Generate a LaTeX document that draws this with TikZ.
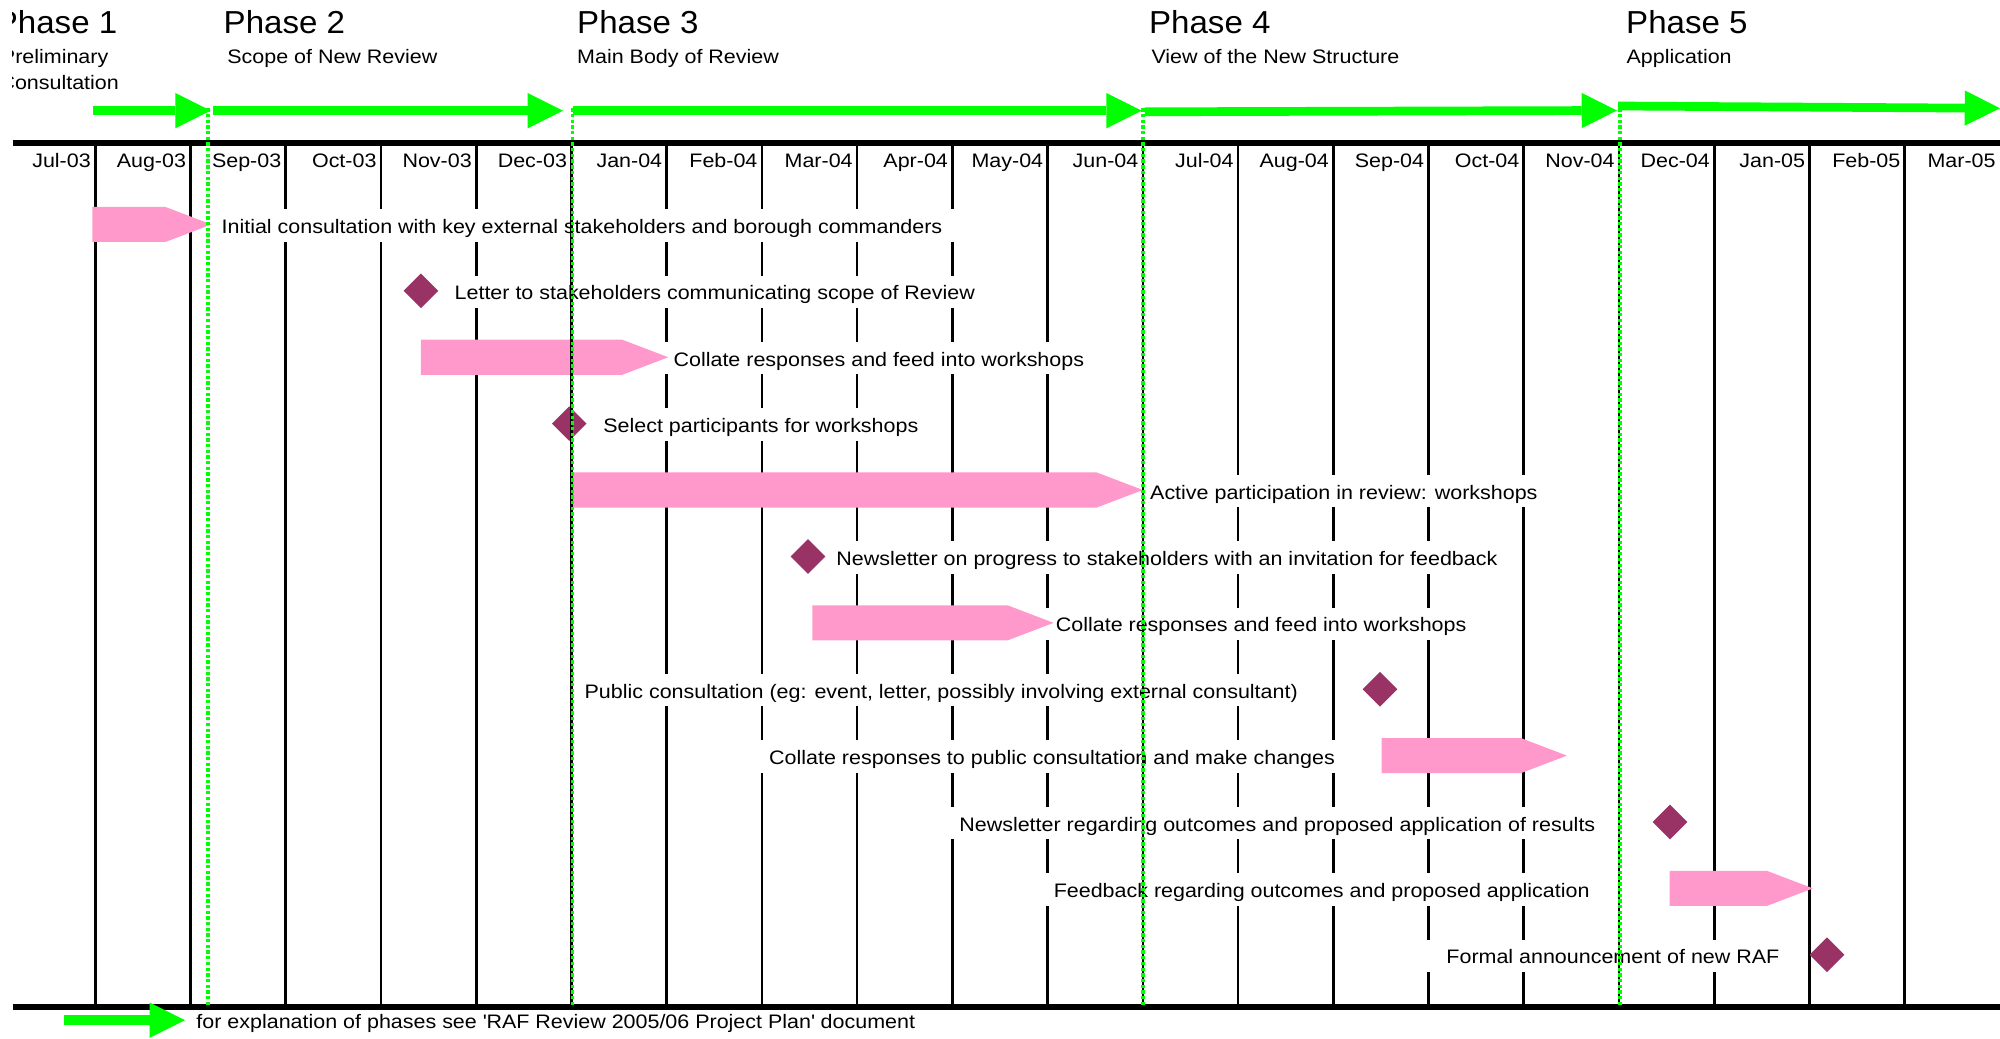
\documentclass[tikz,border=0pt]{standalone}
\usepackage{fontspec}
\setmainfont{Liberation Sans}
\newfontfamily\labelfont{Liberation Sans}[FakeStretch=1.1]
\newfontfamily\titlefont{Liberation Sans}[FakeStretch=1.04]
\usepackage{tikz}
\usetikzlibrary{calc,shapes.geometric,arrows.meta}
\definecolor{phasegreen}{RGB}{0,255,0}
\definecolor{barpink}{RGB}{255,153,204}
\definecolor{mileplum}{RGB}{153,51,102}
% pink task bar from tail to tip
\newcommand{\taskbar}[2]{%
  \fill[barpink] ($(#1)+(0,0.184)$) -- ($(#2)+(-0.483,0.184)$) -- (#2)
    -- ($(#2)+(-0.483,-0.184)$) -- ($(#1)+(0,-0.184)$) -- cycle;}

\begin{document}
\begin{tikzpicture}
        \tikzstyle{lbl}=[font=\labelfont\fontsize{5.83}{7}\selectfont, fill=white, inner xsep=0.22cm, inner ysep=0.5pt, text height=6.73pt, text depth=1.95pt]
        \tikzstyle{month}=[font=\labelfont\fontsize{5.83}{7}\selectfont, inner sep=0pt, anchor=base east]
        \tikzstyle{phasetitle}=[font=\titlefont\fontsize{9.5}{11}\selectfont, inner sep=0pt, anchor=base west]
        \tikzstyle{phasesub}=[font=\labelfont\fontsize{5.83}{7}\selectfont, inner sep=0pt, anchor=base west]
        \tikzstyle{phasearrow}=[draw=phasegreen, line width=2.6pt, -{Triangle[length=0.37cm,width=0.37cm,line width=0pt]}]
        \tikzstyle{milestone}=[diamond, fill=mileplum, inner sep=0pt, minimum size=0.37cm]
        \tikzstyle{phaseline}=[draw=phasegreen, line width=1pt, dash pattern=on 1pt off 0.7pt]
        \useasboundingbox (0,0) rectangle (21,-10.909);
        \clip (0.133,0.1) rectangle (21,-11);
        % Month grid
        \foreach \x in {1,...,20}
            \draw[line width=0.8pt] (\x,-1.499) -- (\x,-10.573);
        \draw[line width=1.7pt] (0.133,-1.499) -- (21,-1.499);
        \draw[line width=1.7pt] (0.133,-10.573) -- (21,-10.573);
        \foreach \m [count=\i] in {Jul-03,Aug-03,Sep-03,Oct-03,Nov-03,Dec-03,Jan-04,Feb-04,Mar-04,Apr-04,May-04,Jun-04,Jul-04,Aug-04,Sep-04,Oct-04,Nov-04,Dec-04,Jan-05,Feb-05,Mar-05}
            \node[month] (mo\i) at (\i-0.04,-1.761) {\m};
        % Phase headings
        \node[phasetitle] (ph1) at (-0.050,-0.350) {Phase 1};
        \node[phasesub] (ph1a) at ($(ph1.base west) + (0.053,-0.315)$) {Preliminary};
        \node[phasesub] (ph1b) at ($(ph1a.base west) + (-0.015,-0.280)$) {Consultation};
        \node[phasetitle] (ph2) at (2.342,-0.350) {Phase 2};
        \node[phasesub] (ph2a) at ($(ph2.base west) + (0.038,-0.315)$) {Scope of New Review};
        \node[phasetitle] (ph3) at (6.054,-0.350) {Phase 3};
        \node[phasesub] (ph3a) at ($(ph3.base west) + (0,-0.315)$) {Main Body of Review};
        \node[phasetitle] (ph4) at (12.059,-0.350) {Phase 4};
        \node[phasesub] (ph4a) at ($(ph4.base west) + (0.025,-0.315)$) {View of the New Structure};
        \node[phasetitle] (ph5) at (17.068,-0.350) {Phase 5};
        \node[phasesub] (ph5a) at ($(ph5.base west) + (0.005,-0.315)$) {Application};
        % Phase arrows
        \coordinate (s1) at (0.973,-1.162);
        \coordinate (e1) at (2.212,-1.162);
        \coordinate (s2) at (2.240,-1.162);
        \coordinate (e2) at (5.911,-1.162);
        \coordinate (s3) at (6.014,-1.162);
        \coordinate (e3) at (11.988,-1.162);
        \coordinate (s4) at (12.022,-1.174);
        \coordinate (e4) at (16.978,-1.160);
        \coordinate (s5) at (16.990,-1.113);
        \coordinate (e5) at (21.0,-1.137);
        \draw[phasearrow] (s1) -- (e1);
        \draw[phasearrow] (s2) -- (e2);
        \draw[phasearrow] (s3) -- (e3);
        \draw[phasearrow] (s4) -- (e4);
        \draw[phasearrow] (s5) -- (e5);
        % Bars and milestones
        \coordinate (b1) at (0.970,-2.357);
        \coordinate (b1t) at (2.22,-2.357);
        \coordinate (d2) at (4.42,-3.054);
        \coordinate (b3) at (4.42,-3.751);
        \coordinate (b3t) at (7.017,-3.751);
        \coordinate (d4) at (5.977,-4.448);
        \coordinate (b5) at (6.0,-5.145);
        \coordinate (b5t) at (12.0,-5.145);
        \coordinate (d6) at (8.484,-5.843);
        \coordinate (b7) at (8.531,-6.540);
        \coordinate (b7t) at (11.063,-6.540);
        \coordinate (d8) at (14.49,-7.237);
        \coordinate (b9) at (14.508,-7.934);
        \coordinate (b9t) at (16.453,-7.934);
        \coordinate (d10) at (17.535,-8.631);
        \coordinate (b11) at (17.530,-9.328);
        \coordinate (b11t) at (19.036,-9.328);
        \coordinate (d12) at (19.183,-10.025);
        % Labels
        \node[lbl, anchor=base west] (t1) at ($(b1t) + (-0.12,-0.095)$) {Initial consultation with key external stakeholders and borough commanders};
        \node[lbl, anchor=base west] (t2) at ($(d2) + (0.127,-0.095)$) {Letter to stakeholders communicating scope of Review};
        \node[lbl, anchor=base west] (t3) at ($(b3t) + (-0.171,-0.095)$) {Collate responses and feed into workshops};
        \node[lbl, anchor=base west] (t4) at ($(d4) + (0.131,-0.095)$) {Select participants for workshops};
        \node[lbl, anchor=base west] (t5) at ($(b5t) + (-0.15,-0.095)$) {Active participation in review: workshops};
        \node[lbl, anchor=base west] (t6) at ($(d6) + (0.071,-0.095)$) {Newsletter on progress to stakeholders with an invitation for feedback};
        \node[lbl, anchor=base west] (t7) at ($(b7t) + (-0.203,-0.095)$) {Collate responses and feed into workshops};
        \node[lbl, anchor=base east] (t8) at ($(d8) + (-0.636,-0.095)$) {Public consultation (eg: event, letter, possibly involving external consultant)};
        \node[lbl, anchor=base east] (t9) at ($(b9) + (-0.265,-0.095)$) {Collate responses to public consultation and make changes};
        \node[lbl, anchor=base east] (t10) at ($(d10) + (-0.557,-0.095)$) {Newsletter regarding outcomes and proposed application of results};
        \node[lbl, anchor=base east] (t11) at ($(b11) + (-0.612,-0.095)$) {Feedback regarding outcomes and proposed application};
        \node[lbl, anchor=base east] (t12) at ($(d12) + (-0.273,-0.095)$) {Formal announcement of new RAF};
        % Bars and milestones over the labels
        \taskbar{b1}{b1t}
        \node[milestone] (m2) at (d2) {};
        \taskbar{b3}{b3t}
        \node[milestone] (m4) at (d4) {};
        \taskbar{b5}{b5t}
        \node[milestone] (m6) at (d6) {};
        \taskbar{b7}{b7t}
        \node[milestone] (m8) at (d8) {};
        \taskbar{b9}{b9t}
        \node[milestone] (m10) at (d10) {};
        \taskbar{b11}{b11t}
        \node[milestone] (m12) at (d12) {};
        % Phase boundaries
        \foreach \x in {6,12,17}
            \draw[line width=0.8pt] (\x,-1.499) -- (\x,-10.573);
        \foreach \x in {2.184,6.013,12.0,17.01}
            \draw[phaseline] (\x,-1.137) -- (\x,-10.573);
        % Legend
        \coordinate (l1) at (0.670,-10.712);
        \coordinate (l1e) at (1.942,-10.712);
        \draw[phasearrow, line width=3pt] (l1) -- (l1e);
        \node[phasesub] (leg) at (2.056,-10.797) {for explanation of phases see \textquotesingle RAF Review 2005/06 Project Plan\textquotesingle{} document};
    \end{tikzpicture}
\end{document}
